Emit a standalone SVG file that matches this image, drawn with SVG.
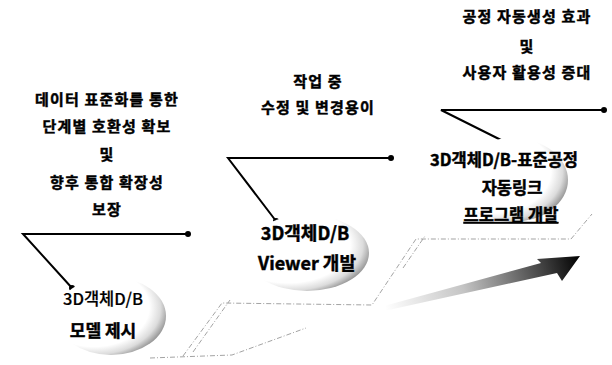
<svg xmlns="http://www.w3.org/2000/svg" width="612" height="365" viewBox="0 0 612 365">
<defs>
<radialGradient id="bub" cx="0.36" cy="0.4" r="0.68" fx="0.3" fy="0.36">
<stop offset="0" stop-color="#fff"/>
<stop offset="0.74" stop-color="#fff"/>
<stop offset="0.88" stop-color="#dcdcdc"/>
<stop offset="1" stop-color="#8e8e8e"/>
</radialGradient>
<linearGradient id="arr" x1="385" y1="308" x2="580" y2="257" gradientUnits="userSpaceOnUse">
<stop offset="0" stop-color="#fff"/>
<stop offset="0.4" stop-color="#c4c4c4"/>
<stop offset="0.8" stop-color="#444"/>
<stop offset="1" stop-color="#000"/>
</linearGradient>
</defs>
<style>
text{font-family:"Noto Sans CJK KR","Noto Sans",sans-serif;font-weight:bold;fill:#000;stroke:#000;stroke-width:0.45;text-anchor:middle}
.lbl{font-size:15px;letter-spacing:1.2px}
.nd{font-size:18px}
.ln{stroke:#000;stroke-width:2;fill:none}
.dot{fill:#000}
.dsh{stroke:#999;stroke-width:0.9;fill:none;stroke-dasharray:5 2 1 2}
</style>
<rect width="612" height="365" fill="#fff"/>
<g id="steps">
<path class="dsh" d="M183,356 L222,303 L372,305 L416,239 L571,239 L592,214"/>
<path class="dsh" d="M193,352 L230,300"/>
<path class="dsh" d="M403,268 L425,236"/>
<path class="dsh" d="M150,358 L232,355 L306,328"/>
</g>
<g id="arrow">
<path d="M384,306 L541,263 L537,259 L580,256 L562,281 L557,273 L384,311 Z" fill="url(#arr)"/>
</g>
<g id="connectors">
<path class="ln" d="M188,234 L23,234 L72,288"/>
<circle class="dot" cx="188" cy="234" r="3"/>
<circle class="dot" cx="72" cy="288" r="3"/>
<path class="ln" d="M391,158 L228,158 L276,221"/>
<circle class="dot" cx="391" cy="158" r="3"/>
<circle class="dot" cx="276" cy="221" r="3"/>
<path class="ln" d="M604,110 L441,110 L509,144"/>
<circle class="dot" cx="604" cy="110" r="3"/>
<circle class="dot" cx="509" cy="144" r="3"/>
</g>
<g id="label1">
<text class="lbl" x="107" y="105">데이터 표준화를 통한</text>
<text class="lbl" x="107" y="132">단계별 호환성 확보</text>
<text class="lbl" x="107" y="160">및</text>
<text class="lbl" x="107" y="188">향후 통합 확장성</text>
<text class="lbl" x="107" y="215">보장</text>
</g>
<g id="label2">
<text class="lbl" x="318" y="87">작업 중</text>
<text class="lbl" x="318" y="113">수정 및 변경용이</text>
</g>
<g id="label3">
<text class="lbl" x="527" y="22">공정 자동생성 효과</text>
<text class="lbl" x="527" y="52">및</text>
<text class="lbl" x="527" y="78">사용자 활용성 증대</text>
</g>
<g id="node1">
<ellipse cx="111" cy="316" rx="55" ry="39" fill="url(#bub)"/>
<text x="103" y="305" style="font-size:16.5px;font-weight:500;stroke-width:0.2">3D객체D/B</text>
<text class="nd" x="103" y="337" style="font-size:17px">모델 제시</text>
</g>
<g id="node2">
<ellipse cx="307" cy="253" rx="62" ry="38" fill="url(#bub)"/>
<text class="nd" x="305" y="240">3D객체D/B</text>
<text class="nd" x="307" y="270">Viewer 개발</text>
</g>
<g id="node3">
<ellipse cx="512" cy="180" rx="56" ry="42" fill="url(#bub)"/>
<text class="nd" x="504" y="166" style="font-size:16.5px">3D객체D/B-표준공정</text>
<text class="nd" x="512" y="194" style="font-size:16.5px">자동링크</text>
<text class="nd" x="511" y="221" style="font-size:16.5px;text-decoration:underline">프로그램 개발</text>
</g>
</svg>
